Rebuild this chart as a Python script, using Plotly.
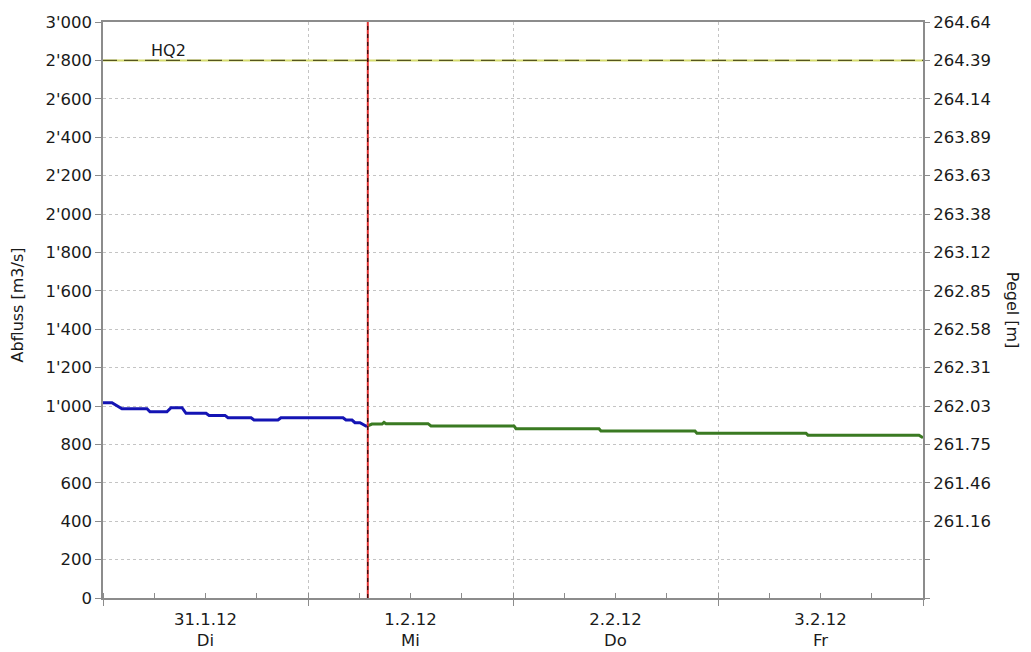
import plotly.graph_objects as go

# ---- data ----
blue_time = ["2012-01-31 00:00", "2012-01-31 01:03", "2012-01-31 02:13", "2012-01-31 05:09",
             "2012-01-31 05:30", "2012-01-31 07:29", "2012-01-31 07:58", "2012-01-31 09:15",
             "2012-01-31 09:43", "2012-01-31 12:04", "2012-01-31 12:25", "2012-01-31 14:17",
             "2012-01-31 14:38", "2012-01-31 17:20", "2012-01-31 17:41", "2012-01-31 20:29",
             "2012-01-31 20:50", "2012-02-01 04:06", "2012-02-01 04:27", "2012-02-01 05:09",
             "2012-02-01 05:30", "2012-02-01 06:05", "2012-02-01 06:47", "2012-02-01 07:00"]
blue_value = [1017, 1017, 986, 986, 970, 970, 991, 991, 962, 962, 951, 951,
              939, 939, 927, 927, 939, 939, 927, 927, 913, 913, 896, 896]

green_time = ["2012-02-01 07:00", "2012-02-01 07:29", "2012-02-01 08:40", "2012-02-01 08:54",
              "2012-02-01 09:08", "2012-02-01 14:03", "2012-02-01 14:24", "2012-02-02 00:07",
              "2012-02-02 00:21", "2012-02-02 10:04", "2012-02-02 10:18", "2012-02-02 21:18",
              "2012-02-02 21:32", "2012-02-03 10:18", "2012-02-03 10:32", "2012-02-03 23:32",
              "2012-02-04 00:00"]
green_value = [896, 906, 906, 915, 908, 908, 896, 896, 882, 882, 870, 870,
               858, 858, 848, 848, 835]

hq2_value = 2800
hq2_label = "HQ2"
now_time = "2012-02-01 07:00"

x_range = ["2012-01-31 00:00", "2012-02-04 00:00"]
day_label_pos = ["2012-01-31 12:00", "2012-02-01 12:00", "2012-02-02 12:00", "2012-02-03 12:00"]
day_label_text = ["31.1.12<br>Di", "1.2.12<br>Mi", "2.2.12<br>Do", "3.2.12<br>Fr"]

left_tickvals = [0, 200, 400, 600, 800, 1000, 1200, 1400, 1600, 1800, 2000, 2200, 2400, 2600, 2800, 3000]
left_ticktext = ["0", "200", "400", "600", "800", "1'000", "1'200", "1'400", "1'600", "1'800",
                 "2'000", "2'200", "2'400", "2'600", "2'800", "3'000"]
right_ticktext = ["", "", "261.16", "261.46", "261.75", "262.03", "262.31", "262.58", "262.85",
                  "263.12", "263.38", "263.63", "263.89", "264.14", "264.39", "264.64"]

FONT = "DejaVu Sans, Liberation Sans, Arial, sans-serif"
AXIS_COL = "#8c8c8c"
GRID_COL = "#c4c4c4"
TXT = "#1a1a1a"
TICK_SIZE = 16.5

fig = go.Figure()

# HQ2 line: light yellow-green base with dark olive dashes
fig.add_trace(go.Scatter(x=x_range, y=[hq2_value, hq2_value], mode="lines",
                         line=dict(color="#d6dc70", width=2), hoverinfo="skip", showlegend=False))
fig.add_trace(go.Scatter(x=x_range, y=[hq2_value, hq2_value], mode="lines",
                         line=dict(color="#55551c", width=1.4, dash="14px,7px"),
                         hoverinfo="skip", showlegend=False))

fig.add_trace(go.Scatter(x=blue_time, y=blue_value, mode="lines",
                         line=dict(color="#1414b4", width=3), showlegend=False))
fig.add_trace(go.Scatter(x=green_time, y=green_value, mode="lines",
                         line=dict(color="#3a7a22", width=3), showlegend=False))

# invisible trace to activate the label axis
fig.add_trace(go.Scatter(x=day_label_pos, y=[None] * len(day_label_pos), xaxis="x2",
                         mode="markers", showlegend=False, hoverinfo="skip"))
# invisible trace to activate right axis
fig.add_trace(go.Scatter(x=[x_range[0]], y=[None], yaxis="y2", mode="markers",
                         showlegend=False, hoverinfo="skip"))

# now line: red with black dashes
fig.add_shape(type="line", xref="x", yref="paper", x0=now_time, x1=now_time, y0=0, y1=1,
              line=dict(color="#e03030", width=2))
fig.add_shape(type="line", xref="x", yref="paper", x0=now_time, x1=now_time, y0=0, y1=1,
              line=dict(color="#000000", width=1, dash="4px,4px"))

fig.add_annotation(text=hq2_label, xref="paper", yref="y", x=0.08, y=hq2_value,
                   xanchor="center", yanchor="bottom", showarrow=False, yshift=-2,
                   font=dict(family=FONT, size=16, color=TXT))
fig.add_annotation(text="Abfluss [m3/s]", xref="paper", yref="paper", x=-0.104, y=0.509,
                   xanchor="center", yanchor="middle",
                   textangle=-90, showarrow=False, font=dict(family=FONT, size=16, color=TXT))
fig.add_annotation(text="Pegel [m]", xref="paper", yref="paper", x=1.11, y=0.5,
                   xanchor="center", yanchor="middle",
                   textangle=90, showarrow=False, font=dict(family=FONT, size=16, color=TXT))

fig.update_layout(
    width=1023, height=644,
    margin=dict(l=95, r=108, t=14, b=54, autoexpand=False),
    paper_bgcolor="white", plot_bgcolor="white",
    font=dict(family=FONT, size=TICK_SIZE, color=TXT),
    xaxis=dict(type="date", range=x_range, tickmode="linear", tick0=x_range[0],
               dtick=86400000, showticklabels=False, ticks="outside", ticklen=6,
               tickcolor=AXIS_COL, showline=True, linecolor=AXIS_COL, linewidth=1.5,
               mirror=True, showgrid=True, gridcolor=GRID_COL, griddash="3px,3px",
               gridwidth=1, zeroline=False, automargin=False,
               minor=dict(tickmode="linear", tick0=x_range[0], dtick=6 * 3600000,
                          ticks="inside", ticklen=5, tickcolor=AXIS_COL, showgrid=False)),
    xaxis2=dict(type="date", range=x_range, overlaying="x", side="bottom",
                tickmode="array", tickvals=day_label_pos, ticktext=day_label_text,
                ticks="", ticklabelstandoff=9, showgrid=False, showline=False,
                zeroline=False, automargin=False,
                tickfont=dict(family=FONT, size=TICK_SIZE, color=TXT)),
    yaxis=dict(range=[0, 3000], tickmode="array", tickvals=left_tickvals,
               ticktext=left_ticktext, ticks="outside", ticklen=6, tickcolor=AXIS_COL,
               showline=True, linecolor=AXIS_COL, linewidth=1.5, mirror=True,
               showgrid=True, gridcolor=GRID_COL, griddash="3px,3px", zeroline=False,
               automargin=False, tickfont=dict(family=FONT, size=TICK_SIZE, color=TXT)),
    yaxis2=dict(range=[0, 3000], overlaying="y", side="right", tickmode="array",
                tickvals=left_tickvals, ticktext=right_ticktext, ticks="outside",
                ticklen=6, tickcolor=AXIS_COL, showline=False, showgrid=False,
                zeroline=False, automargin=False,
                tickfont=dict(family=FONT, size=TICK_SIZE, color=TXT)),
)

fig.write_html("out.html")
